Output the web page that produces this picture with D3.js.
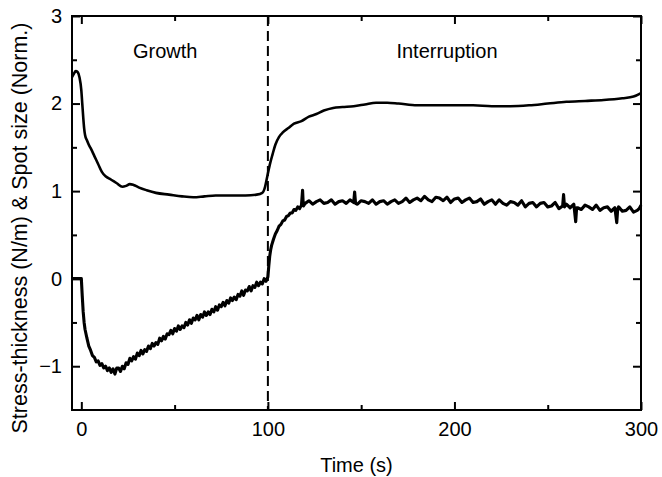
<!DOCTYPE html>
<html>
<head>
<meta charset="utf-8">
<script src="https://cdn.jsdelivr.net/npm/d3@7"></script>
<style>
    body { margin: 0; background: #fff; }
    #chart { width: 662px; height: 477px; }
    text { font-family: "Liberation Sans", Arial, sans-serif; fill: #000; }
</style>
</head>
<body>
<div id="chart"></div>
<script>
// tick values
const xTicks = [0, 100, 200, 300];
const xMinorTicks = [50, 150, 250];
const yTicks = [-1, 0, 1, 2, 3];
const yMinorTicks = [-0.5, 0.5, 1.5, 2.5];

// phases
const phaseNames = ["Growth", "Interruption"];
const phaseLabelTime = [45, 196];
const interruptTime = 100;

// spot size (normalised), [time, value]
const spotSize = [
    [-5, 2.30], [-4, 2.34], [-3, 2.37], [-2, 2.36], [-1, 2.30], [0, 2.15], [0.5, 2.0], [1, 1.85],
    [1.5, 1.72], [2, 1.64], [3, 1.58], [4, 1.53], [5, 1.49], [7, 1.40], [9, 1.31], [11, 1.22],
    [13, 1.17], [16, 1.13], [19, 1.09], [22, 1.05], [24, 1.06], [26, 1.08], [28, 1.07], [31, 1.04],
    [35, 1.01], [40, 0.98], [47, 0.96], [54, 0.94], [60, 0.93], [66, 0.94], [72, 0.95], [80, 0.95],
    [88, 0.95], [94, 0.96], [97, 0.98], [98.5, 1.05], [99.5, 1.15], [101, 1.30], [102.5, 1.42],
    [104, 1.53], [106, 1.62], [108, 1.67], [111, 1.72], [114, 1.77], [118, 1.80], [122, 1.85],
    [126, 1.88], [130, 1.92], [135, 1.95], [140, 1.96], [146, 1.97], [152, 1.99], [158, 2.01],
    [164, 2.01], [170, 2.00], [180, 1.98], [190, 1.98], [200, 1.98], [210, 1.98], [220, 1.97],
    [230, 1.97], [240, 1.98], [250, 2.00], [260, 2.02], [270, 2.03], [280, 2.04], [290, 2.06],
    [296, 2.08], [300, 2.12]
];

// stress-thickness (N/m), [time, value]
const stressThickness = [
    [-5, 0], [0, 0], [0.5, -0.2], [1, -0.38], [1.5, -0.5], [2, -0.58], [3, -0.68], [4, -0.77],
    [5, -0.82], [6, -0.88], [7, -0.90], [8, -0.95], [9, -0.94], [10, -0.99], [11, -0.97], [12, -1.02],
    [13, -1.00], [14, -1.05], [15, -1.02], [16, -1.07], [17, -1.03], [18, -1.09], [19, -1.02], [20, -1.02],
    [21, -1.06], [22, -1.00], [23, -1.03], [24, -0.96], [25, -0.98], [26, -0.91], [27, -0.94], [28, -0.89],
    [29, -0.92], [30, -0.85], [31, -0.88], [32, -0.82], [33, -0.86], [34, -0.81], [35, -0.83], [36, -0.77],
    [37, -0.80], [38, -0.74], [39, -0.77], [40, -0.73], [41, -0.75], [42, -0.68], [43, -0.71], [44, -0.66],
    [45, -0.69], [46, -0.63], [47, -0.64], [48, -0.59], [49, -0.63], [50, -0.57], [51, -0.60], [52, -0.54],
    [53, -0.58], [54, -0.54], [55, -0.56], [56, -0.50], [57, -0.53], [58, -0.47], [59, -0.51], [60, -0.45],
    [61, -0.47], [62, -0.42], [63, -0.47], [64, -0.41], [65, -0.44], [66, -0.38], [67, -0.42], [68, -0.38],
    [69, -0.41], [70, -0.35], [71, -0.38], [72, -0.32], [73, -0.36], [74, -0.30], [75, -0.32], [76, -0.27],
    [77, -0.31], [78, -0.25], [79, -0.28], [80, -0.22], [81, -0.25], [82, -0.21], [83, -0.24], [84, -0.18],
    [85, -0.20], [86, -0.14], [87, -0.19], [88, -0.13], [89, -0.14], [90, -0.09], [91, -0.14], [92, -0.08],
    [93, -0.10], [94, -0.04], [95, -0.08], [96, -0.04], [97, -0.06], [98, 0.00], [99, -0.03], [100, 0.02],
    [100.5, 0.15], [101, 0.26], [101.5, 0.33], [102, 0.38], [103, 0.45], [104, 0.51], [105, 0.55], [106, 0.60],
    [107, 0.62], [108, 0.66], [109, 0.67], [110, 0.71], [111, 0.72], [112, 0.75], [113, 0.75], [114, 0.79],
    [115, 0.78], [116, 0.82], [117, 0.80], [118, 0.84], [118.6, 1.01], [119, 0.83], [120, 0.86], [122, 0.89],
    [124, 0.85], [126, 0.88], [128, 0.90], [130, 0.86], [132, 0.87], [134, 0.90], [136, 0.85], [138, 0.88],
    [140, 0.89], [142, 0.86], [144, 0.90], [146, 0.87], [146.5, 0.99], [147, 0.86], [148, 0.85], [150, 0.89],
    [152, 0.88], [154, 0.86], [156, 0.90], [158, 0.85], [160, 0.88], [162, 0.89], [164, 0.85], [166, 0.88],
    [168, 0.90], [170, 0.86], [172, 0.88], [174, 0.92], [176, 0.87], [178, 0.90], [180, 0.92], [182, 0.89],
    [184, 0.94], [186, 0.90], [188, 0.88], [190, 0.93], [192, 0.92], [194, 0.89], [196, 0.93], [198, 0.87],
    [200, 0.91], [202, 0.92], [204, 0.87], [206, 0.90], [208, 0.92], [210, 0.87], [212, 0.88], [214, 0.91],
    [216, 0.85], [218, 0.88], [220, 0.90], [222, 0.85], [224, 0.90], [226, 0.86], [228, 0.84], [230, 0.88],
    [232, 0.87], [234, 0.84], [236, 0.89], [238, 0.82], [240, 0.86], [242, 0.87], [244, 0.82], [246, 0.86],
    [248, 0.87], [250, 0.82], [252, 0.83], [254, 0.87], [256, 0.80], [258, 0.83], [258.5, 0.96], [259, 0.82],
    [260, 0.85], [262, 0.81], [264, 0.85], [265, 0.65], [265.5, 0.81], [266, 0.81], [268, 0.79], [270, 0.84],
    [272, 0.82], [274, 0.79], [276, 0.84], [278, 0.78], [280, 0.81], [282, 0.82], [284, 0.77], [286, 0.81],
    [287, 0.64], [287.5, 0.79], [288, 0.82], [290, 0.77], [292, 0.78], [294, 0.82], [296, 0.76], [298, 0.78],
    [299, 0.80], [300, 0.84]
];

class StressPlot {
    constructor(parentElement) {
        this.parentElement = parentElement;
        this.initVis();
    }

    initVis() {
        let vis = this;

        vis.margin = {top: 16, right: 21, bottom: 67, left: 72};
        vis.width = 662 - vis.margin.left - vis.margin.right;
        vis.height = 477 - vis.margin.top - vis.margin.bottom;

        vis.svg = d3.select("#" + vis.parentElement).append("svg")
            .attr("width", 662)
            .attr("height", 477)
            .append("g")
            .attr("transform", "translate(" + vis.margin.left + "," + vis.margin.top + ")");

        vis.xScale = d3.scaleLinear().domain([-5, 300]).range([0, vis.width]);
        vis.yScale = d3.scaleLinear().domain([-1.5, 3]).range([vis.height, 0]);

        vis.drawAxes();
        vis.drawLines();
        vis.drawText();
    }

    drawAxes() {
        let vis = this;

        // major ticks point inward, labels only bottom/left
        let bottom = vis.svg.append("g")
            .attr("transform", `translate(0,${vis.height})`)
            .call(d3.axisBottom(vis.xScale).tickValues(xTicks).tickSize(-8).tickPadding(12).tickFormat(d3.format("d")));
        let top = vis.svg.append("g")
            .call(d3.axisTop(vis.xScale).tickValues(xTicks).tickSize(-8).tickFormat(""));
        let left = vis.svg.append("g")
            .call(d3.axisLeft(vis.yScale).tickValues(yTicks).tickSize(-8).tickPadding(10).tickFormat(d3.format("d")));
        let right = vis.svg.append("g")
            .attr("transform", `translate(${vis.width},0)`)
            .call(d3.axisRight(vis.yScale).tickValues(yTicks).tickSize(-8).tickFormat(""));

        // minor ticks
        let minors = [
            vis.svg.append("g").attr("transform", `translate(0,${vis.height})`)
                .call(d3.axisBottom(vis.xScale).tickValues(xMinorTicks).tickSize(-5).tickFormat("")),
            vis.svg.append("g")
                .call(d3.axisTop(vis.xScale).tickValues(xMinorTicks).tickSize(-5).tickFormat("")),
            vis.svg.append("g")
                .call(d3.axisLeft(vis.yScale).tickValues(yMinorTicks).tickSize(-5).tickFormat("")),
            vis.svg.append("g").attr("transform", `translate(${vis.width},0)`)
                .call(d3.axisRight(vis.yScale).tickValues(yMinorTicks).tickSize(-5).tickFormat(""))
        ];

        [bottom, top, left, right].concat(minors).forEach(g => {
            g.select(".domain").remove();
            g.selectAll(".tick line").attr("stroke", "#000").attr("stroke-width", 2);
            g.selectAll(".tick text")
                .attr("font-size", 20)
                .attr("font-family", "Liberation Sans, Arial, sans-serif")
                .attr("fill", "#000");
        });

        // frame
        vis.svg.append("rect")
            .attr("x", 0)
            .attr("y", 0)
            .attr("width", vis.width)
            .attr("height", vis.height)
            .attr("fill", "none")
            .attr("stroke", "#000")
            .attr("stroke-width", 2);
    }

    drawLines() {
        let vis = this;

        vis.svg.append("line")
            .attr("x1", vis.xScale(interruptTime))
            .attr("x2", vis.xScale(interruptTime))
            .attr("y1", 0)
            .attr("y2", vis.height)
            .attr("stroke", "#000")
            .attr("stroke-width", 2)
            .attr("stroke-dasharray", "10,5");

        let smoothLine = d3.line()
            .x(d => vis.xScale(d[0]))
            .y(d => vis.yScale(d[1]))
            .curve(d3.curveMonotoneX);

        let rawLine = d3.line()
            .x(d => vis.xScale(d[0]))
            .y(d => vis.yScale(d[1]));

        vis.svg.append("path")
            .datum(spotSize)
            .attr("fill", "none")
            .attr("stroke", "#000")
            .attr("stroke-width", 2.6)
            .attr("stroke-linejoin", "round")
            .attr("d", smoothLine);

        // noisy trace, a bit heavier
        vis.svg.append("path")
            .datum(stressThickness)
            .attr("fill", "none")
            .attr("stroke", "#000")
            .attr("stroke-width", 3.1)
            .attr("stroke-linejoin", "round")
            .attr("d", rawLine);
    }

    drawText() {
        let vis = this;

        vis.svg.selectAll(".phase")
            .data(phaseNames)
            .enter().append("text")
            .attr("class", "phase")
            .attr("x", (d, i) => vis.xScale(phaseLabelTime[i]))
            .attr("y", 42)
            .attr("text-anchor", "middle")
            .attr("font-size", 20)
            .text(d => d);

        vis.svg.append("text")
            .attr("x", vis.width / 2)
            .attr("y", vis.height + 62)
            .attr("text-anchor", "middle")
            .attr("font-size", 20)
            .text("Time (s)");

        vis.svg.append("text")
            .attr("transform", `translate(-45,${vis.height / 2 + 15}) rotate(-90)`)
            .attr("text-anchor", "middle")
            .attr("font-size", 21.5)
            .text("Stress-thickness (N/m) & Spot size (Norm.)");
    }
}

new StressPlot("chart");
</script>
</body>
</html>
